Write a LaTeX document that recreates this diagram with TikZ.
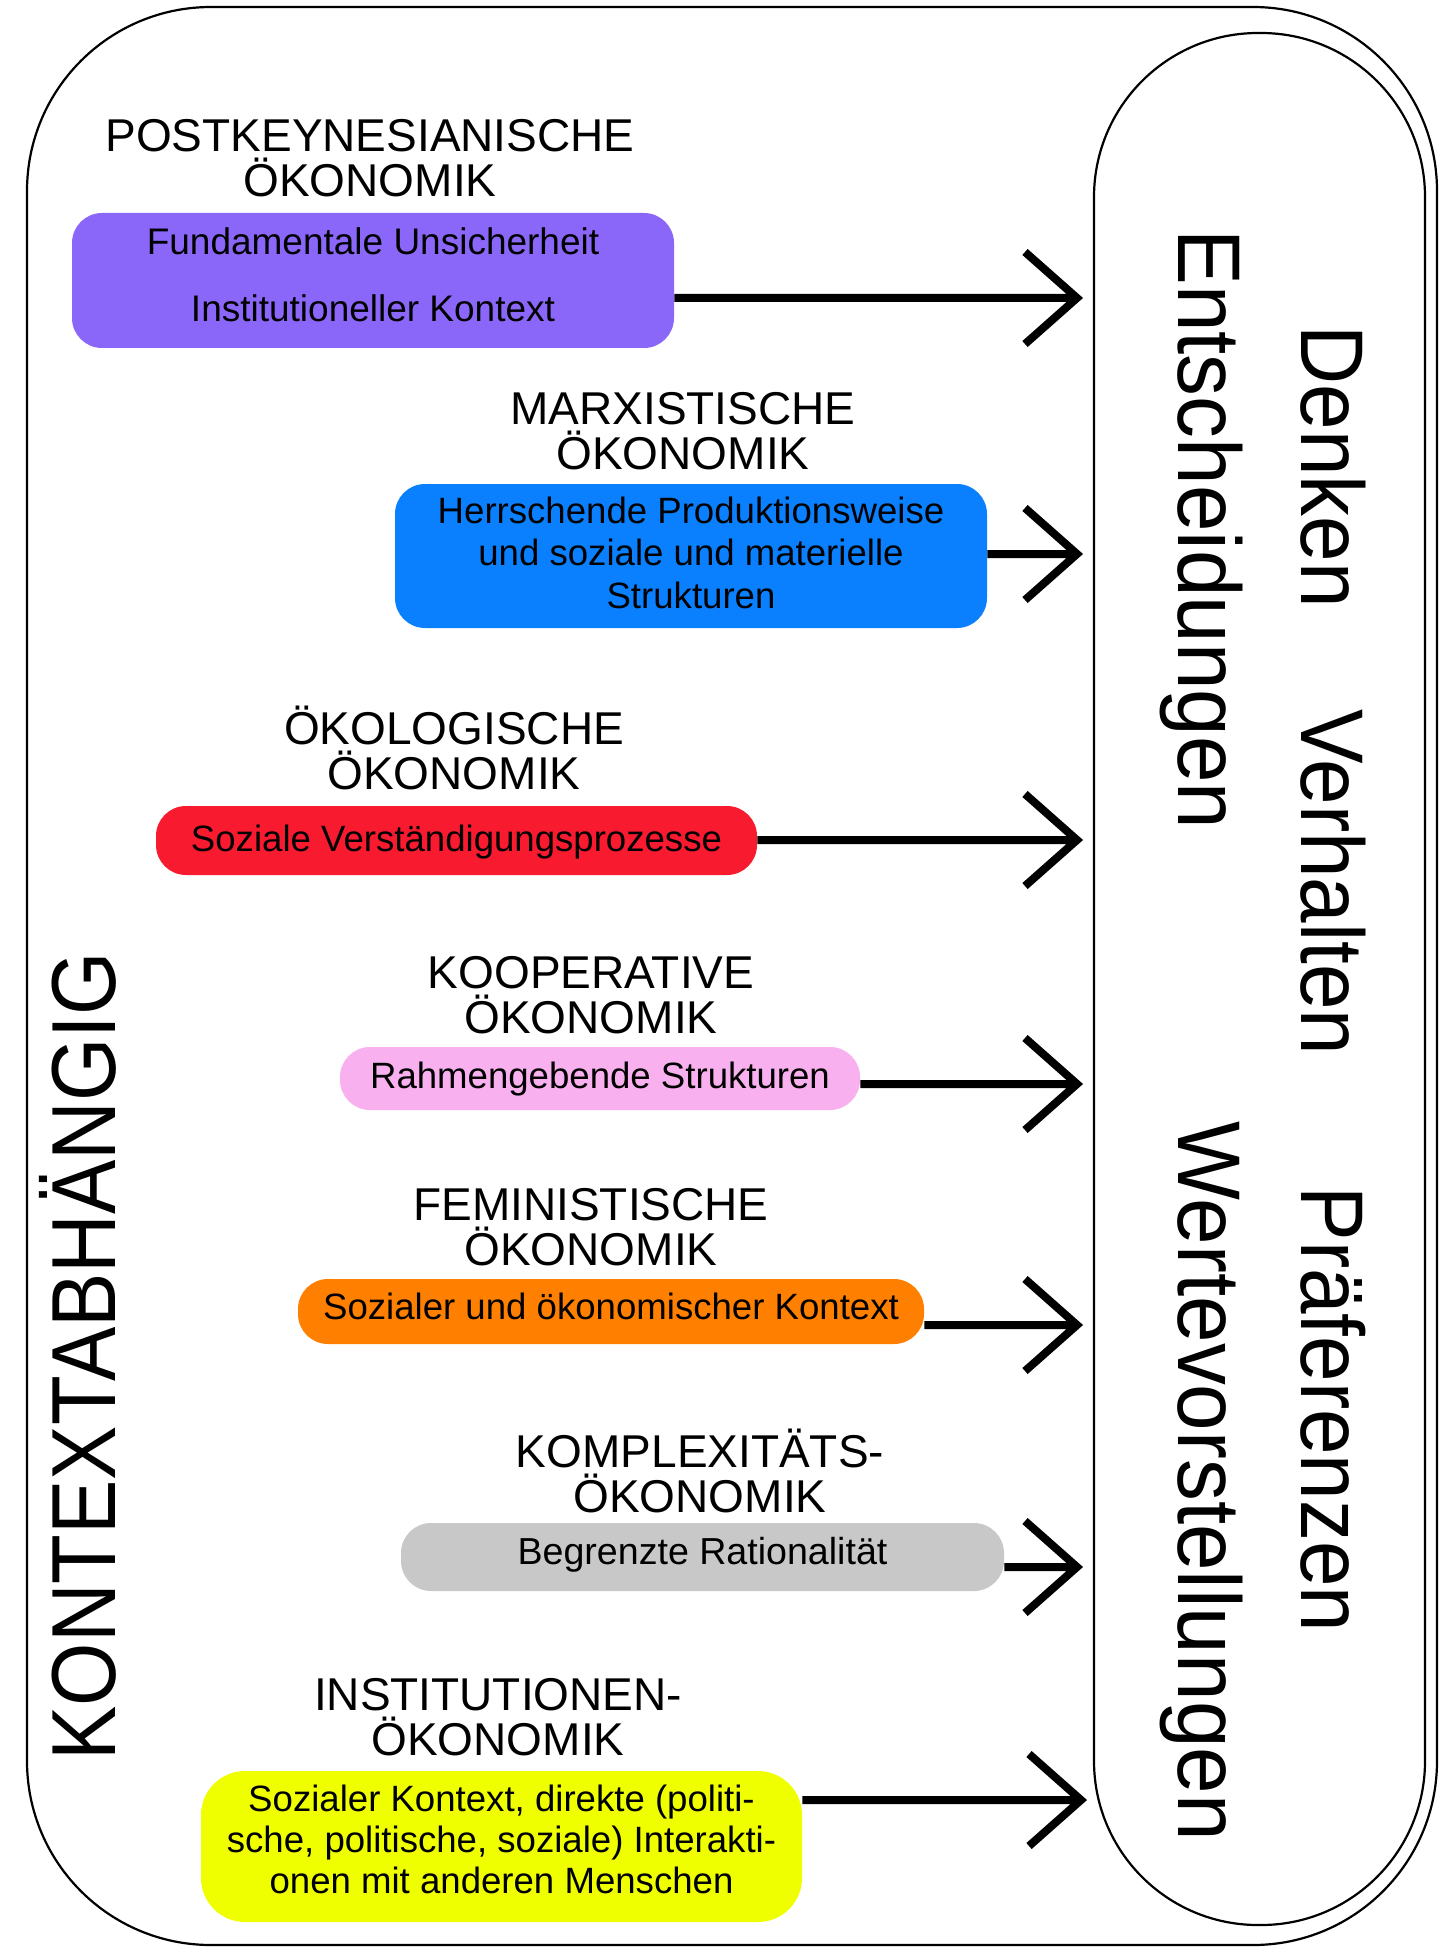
\documentclass[tikz,border=0pt]{standalone}
\usepackage{fontspec}
\setmainfont{Liberation Sans}
\newfontfamily\grossfont[FakeStretch=0.92]{Liberation Sans}
\newfontfamily\grossfontB[FakeStretch=0.94]{Liberation Sans}
\newfontfamily\kontextfont[FakeStretch=0.895]{Liberation Sans}
\newcommand{\zentriert}[1]{\vtop{\halign{\hfil##\hfil\cr#1\crcr}}}
\definecolor{cLila}{HTML}{8B67F9}
\definecolor{cBlau}{HTML}{0A80FE}
\definecolor{cRot}{HTML}{F81B30}
\definecolor{cRosa}{HTML}{F8B1EE}
\definecolor{cOrange}{HTML}{FF7F00}
\definecolor{cGrau}{HTML}{C8C8C8}
\definecolor{cGelb}{HTML}{EFFF00}
\begin{document}
\begin{tikzpicture}[x=0.5pt,y=-0.5pt,
  rahmen/.style={draw=black, line width=1.1pt, inner sep=0},
  kopf/.style={inner sep=0, anchor=base, font=\fontsize{23}{22.5}\selectfont},
  kasten/.style={inner sep=0, anchor=base, rounded corners=15pt, font=\fontsize{18.3}{21.25}\selectfont},
  gross/.style={inner sep=0, anchor=base west, font=\fontsize{44.5}{50}\grossfont},
  pfeil/.style={line width=4pt, line cap=butt, line join=miter}]
\useasboundingbox (0,0) rectangle (1440,1947);

% frames
\node[rahmen, rounded corners=92pt, minimum width=705pt, minimum height=969pt] (aussen) at (732,976) {};
\node[rahmen, rounded corners=82pt, minimum width=165.5pt, minimum height=946pt] (ziel) at (1259.5,979) {};

% headings
\node[kopf] (h1) at (370,152) {\zentriert{POSTKEYNESIANISCHE\cr ÖKONOMIK}};
\node[kopf] (h2) at (683,424) {\zentriert{MARXISTISCHE\cr ÖKONOMIK}};
\node[kopf] (h3) at (454,744) {\zentriert{ÖKOLOGISCHE\cr ÖKONOMIK}};
\node[kopf] (h4) at (591,988) {\zentriert{KOOPERATIVE\cr ÖKONOMIK}};
\node[kopf] (h5) at (591,1220) {\zentriert{FEMINISTISCHE\cr ÖKONOMIK}};
\node[kopf] (h6) at (700,1467) {\zentriert{KOMPLEXITÄTS-\cr ÖKONOMIK}};
\node[kopf] (h7) at (498,1710) {\zentriert{INSTITUTIONEN-\cr ÖKONOMIK}};

% boxes
\node[kasten, fill=cLila, minimum width=301pt, text height=21pt, text depth=46.5pt,
      font=\fontsize{18.5}{33.5}\selectfont] (k1) at (373,255)
  {\zentriert{Fundamentale Unsicherheit\cr Institutioneller Kontext}};
\node[kasten, fill=cBlau, minimum width=296pt, text height=19.5pt, text depth=52.5pt] (k2) at (691,523)
  {\zentriert{Herrschende Produktionsweise\cr und soziale und materielle\cr Strukturen}};
\node[kasten, fill=cRot, minimum width=300.5pt, text height=22.5pt, text depth=12pt] (k3) at (456.5,851)
  {Soziale Verständigungsprozesse};
\node[kasten, fill=cRosa, minimum width=260pt, text height=20.5pt, text depth=11pt] (k4) at (600,1088)
  {Rahmengebende Strukturen};
\node[kasten, fill=cOrange, minimum width=313pt, text height=20pt, text depth=12.5pt] (k5) at (611,1319)
  {Sozialer und ökonomischer Kontext};
\node[kasten, fill=cGrau, minimum width=301.5pt, text height=20.5pt, text depth=13.5pt,
      font=\fontsize{18.8}{21.25}\selectfont] (k6) at (702.5,1564)
  {Begrenzte Rationalität};
\node[kasten, fill=cGelb, minimum width=300.5pt, text height=20pt, text depth=55.5pt,
      rounded corners=22pt, font=\fontsize{18.3}{20.5}\selectfont] (k7) at (501.5,1811)
  {\zentriert{Sozialer Kontext, direkte (politi-\cr sche, politische, soziale) Interakti-\cr onen mit anderen Menschen}};

% arrow tips
\coordinate (p1) at (1077,298);
\coordinate (p2) at (1077,554);
\coordinate (p3) at (1077,840);
\coordinate (p4) at (1077,1084);
\coordinate (p5) at (1077,1325);
\coordinate (p6) at (1077,1567);
\coordinate (p7) at (1081,1800);

\foreach \k/\p in {k1/p1,k2/p2,k3/p3,k4/p4,k5/p5,k6/p6,k7/p7}{
  \draw[pfeil] (\k.east |- \p) -- (\p) ++(-26pt,23pt) -- (\p) -- ++(-26pt,-23pt);
}

% rotated texts
\node[gross, rotate=-90, font=\fontsize{44.5}{50}\grossfontB] (t1) at (1178,229) {Entscheidungen};
\node[gross, rotate=-90, font=\fontsize{44.5}{50}\grossfontB] (t2) at (1178,1121) {Wertevorstellungen};
\node[gross, rotate=-90] (t3) at (1301,325) {Denken};
\node[gross, rotate=-90] (t4) at (1301,709) {Verhalten};
\node[gross, rotate=-90] (t5) at (1301,1186) {Präferenzen};
\node[gross, rotate=90, font=\fontsize{45.5}{50}\kontextfont] (kt) at (115,1761) {KONTEXTABHÄNGIG};
\end{tikzpicture}
\end{document}
